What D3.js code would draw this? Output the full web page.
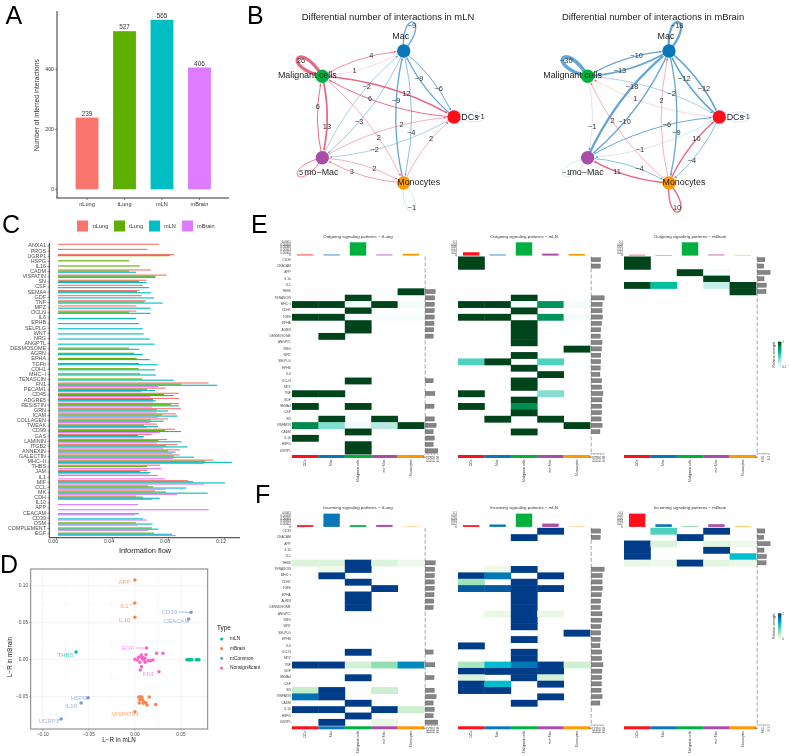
<!DOCTYPE html>
<html><head><meta charset="utf-8">
<script src="https://cdnjs.cloudflare.com/ajax/libs/d3/7.8.5/d3.min.js"></script>
<style>html,body{margin:0;padding:0;background:#fff}svg{display:block;font-family:"Liberation Sans",Arial,sans-serif;filter:blur(.3px)}</style>
</head><body><svg id="c" width="789" height="756"></svg>
<script>
const _=null;
// ---------- Panel A
const groups=['nLung','tLung','mLN','mBrain'];
const interactionCounts=[239,527,565,406];
const groupColors=['#F8766D','#5EB000','#00BFC4','#DF7BFF'];
// ---------- Panel B
const cellNames=['DCs','Mac','Malignant cells','mo\u2212Mac','Monocytes'];
const cellColors=['#FF0F1A','#0A78B8','#00B140','#A84EA8','#FF9900'];
const edgesMLN=[['Mal','Mac',4],['Mac','Mal',1],['mo','Mac',-2],['Mac','mo',-3],['Mal','DC',12],['DC','Mal',6],['Mac','DC',-6],['DC','Mac',-9],['Mac','Mono',-4],['Mono','Mac',-9],['Mal','mo',13],['mo','Mal',6],['DC','mo',-2],['mo','DC',2],['Mono','DC',2],['Mal','Mono',2],['mo','Mono',2],['Mono','mo',3]];
const loopsMLN=[['Mal',26],['Mac',-9],['DC',-1],['mo',5],['Mono',-1]];
const edgesBrain=[['Mal','Mac',-10],['Mac','Mal',-13],['mo','Mac',-18],['Mac','mo',-10],['Mal','DC',-2],['DC','Mal',1],['Mac','DC',-12],['DC','Mac',-12],['Mac','Mono',-9],['Mono','Mac',2],['Mal','mo',-1],['mo','DC',-6],['DC','mo',-1],['Mono','Mal',2],['DC','Mono',-4],['Mono','DC',10],['mo','Mono',-4],['Mono','mo',11]];
const loopsBrain=[['Mal',-30],['Mac',-18],['DC',-1],['mo',-1],['Mono',10]];
// ---------- Panel C
const pathways=['ANXA1','PROS','UGRP1','HSPG','IL16','CADM','VISFATIN','SN','CSF','SEMA4','GDF','TNF','MPZ','OCLN','IL6','EPHB','SELPLG','WNT','NRG','ANGPTL','DESMOSOME','AGRN','EPHA','TGFb','CDH1','MHC-I','TENASCIN','FN1','PECAM1','CD45','ADGRE5','RESISTIN','GRN','ICAM','COLLAGEN','TWEAK','CD99','GAS','LAMININ','ITGB2','ANNEXIN','GALECTIN','MHC-II','THBS','JAM','IL1','MIF','CCL','MK','CDH','IL10','APP','CEACAM','CD39','OSM','COMPLEMENT','EGF'];
const flowNLung=[.0721,.0638,.0829,_,_,.0664,.0776,.0633,.0607,.0583,.0598,.0629,.056,.056,_,_,_,_,_,_,_,_,_,_,_,_,_,.1076,.0769,.0862,.0864,.0864,.0879,.0845,.0786,.0707,.0836,.0669,.0779,.0855,.0871,.0869,.111,.0729,.0638,.0712,.0929,.0645,.0693,.0557,_,_,_,_,_,_,_];
const flowTLung=[_,_,.08,.0507,.0583,.0507,.0698,.0579,_,.0564,_,.0617,_,.0507,_,_,_,_,_,_,.0507,.0543,.0562,.0579,.0576,.0586,.0602,.0879,.0636,.0757,.0679,.0807,.0707,.0745,.0662,.0614,.0764,.0571,.0717,.0771,.0786,.0829,.1052,.0636,.0588,_,.0964,.0681,.0771,.0607,_,_,_,_,.0557,.0671,.0686];
const flowMLN=[_,_,_,_,_,.0557,.0695,.0633,.065,.0664,.0686,.0748,.0662,.0662,.0557,.0579,.0605,.0612,.0655,.069,.0579,.0605,.0655,.0712,.0693,.07,.0826,.1138,.0693,.0826,.0698,.0864,.0788,.0855,.0755,.0714,.0879,.0614,.0883,.0926,.084,.0971,.1243,_,.066,_,.1193,.0917,.1069,.0726,_,_,.0579,.0607,.0676,.0717,.0814];
const flowMBrain=[_,_,_,_,_,_,_,_,_,_,_,_,_,_,_,_,_,_,_,_,_,_,_,_,_,_,_,.0717,.06,.066,.0681,.0671,.0705,.0714,.0657,.0633,.0729,.0605,.0705,.0752,.0817,.0824,.1043,.0738,.065,.0764,.1045,.0769,.085,.0671,.0571,.1076,.0552,.0636,.0571,.0645,.084];
const flowTicks=[0,.04,.08,.12];
// ---------- Panel D
const typeNames=['mLN','mBrain','mCommon','Nonsignificant'];
const typeColors=['#00BF9D','#F8854C','#7B9AD6','#F766C8'];
const ptsMLN=[[-.0638,.0104],[.0565,0],[.0578,0],[.059,0],[.0605,0],[.0618,0],[.0665,0],[.068,0],[.0695,0]];
const ptsBrain=[[0,.1077],[0,.0766],[0,.0572],[0,-.0703],[.0043,-.0505],[.0058,-.0505],[.0076,-.0505],[.0156,-.0505],[.0054,-.054],[.0083,-.054],[.0047,-.0586],[.0098,-.0572],[.012,-.0581],[.013,-.0613],[.0091,-.059],[.0225,-.0604]];
const ptsCommon=[[.0609,.064],[.0583,.055],[-.0507,-.0514],[-.0583,-.0586],[-.08,-.0802]];
const ptsNonsig=[[.0127,.0158],[.0261,-.0162],[.0236,.0086],[.0304,.0086],[.0069,.0063],[.012,.0068],[.004,.0032],[.0069,.0032],[.0109,.0018],[0,.0005],[.0025,-.0005],[.0054,-.0036],[.0087,.0005],[.0112,-.0036],[.0145,-.0014],[.017,-.0014],[.0196,-.0005],[.0072,-.0095],[.0058,-.014],[.0098,-.0005],[.0083,.0032]];
const scatterLabels=[['APP',1,0,.1077],['IL1',1,0,.0766],['IL10',1,0,.0572],['VISFATIN',1,0,-.0703],['CD39',2,.0609,.064],['CEACAM',2,.0583,.055],['HSPG',2,-.0507,-.0514],['IL16',2,-.0583,-.0586],['UGRP1',2,-.08,-.0802],['THBS',0,-.0638,.0104],['EGF',3,.0127,.0158],['FN1',3,.0261,-.0162]];
// ---------- Panels E, F
const heatRows=['CD39','CEACAM','APP','IL10','IL1','THBS','TENASCIN','MHC-I','CDH1','TGFb','EPHA','AGRN','DESMOSOME','ANGPTL','NRG','WNT','SELPLG','EPHB','IL6','OCLN','MPZ','TNF','GDF','SEMA4','CSF','SN','VISFATIN','CADM','IL16','HSPG','UGRP1'];
const outTLung=[['THBS',0,0,0,0,1],['TENASCIN',0,0,1,0,0],['MHC-I',1,1,.03,1,.03],['CDH1',0,0,1,0,0],['TGFb',1,1,.02,.02,.02],['EPHA',0,0,1,0,0],['AGRN',0,0,1,0,0],['DESMOSOME',0,1,0,0,0],['OCLN',0,0,1,0,0],['TNF',1,1,0,0,0],['SEMA4',1,0,1,0,0],['SN',0,1,0,1,0],['VISFATIN',.82,.35,.03,.25,1],['CADM',0,0,1,0,0],['IL16',1,0,0,0,0],['HSPG',0,0,1,0,0],['UGRP1',0,0,1,0,0]];
const outMLN=[['CD39',1,0,0,0,0],['CEACAM',1,0,0,0,0],['TENASCIN',0,0,1,0,0],['MHC-I',1,1,.03,.78,.03],['CDH1',0,0,1,0,0],['TGFb',1,1,0,.78,.03],['EPHA',0,0,1,0,0],['AGRN',0,0,1,0,0],['DESMOSOME',0,0,1,0,0],['ANGPTL',0,0,1,0,0],['NRG',0,0,0,0,1],['WNT',0,0,1,0,0],['SELPLG',.45,1,0,.45,0],['EPHB',0,0,1,0,0],['IL6',0,0,0,1,0],['OCLN',0,0,1,0,0],['MPZ',0,0,1,0,0],['TNF',1,0,0,.35,0],['GDF',0,0,1,0,0],['SEMA4',1,0,.8,0,0],['CSF',0,0,1,0,0],['SN',0,1,0,1,0],['VISFATIN',0,0,0,0,1],['CADM',0,0,1,0,0]];
const outMBrain=[['CD39',1,0,0,0,0],['CEACAM',1,0,0,0,0],['APP',0,0,1,.03,0],['IL10',0,0,0,1,0],['IL1',1,.6,0,.2,1],['THBS',0,0,0,0,1]];
const inTLung=[['THBS',.12,.12,1,.12,.05],['TENASCIN',0,.05,1,0,0],['MHC-I',0,1,0,0,0],['CDH1',0,0,1,0,0],['TGFb',0,0,0,1,0],['EPHA',0,0,1,0,0],['AGRN',0,0,1,0,0],['DESMOSOME',0,0,1,0,0],['OCLN',0,0,1,0,0],['TNF',1,1,.15,.3,.75],['SEMA4',0,0,1,0,0],['SN',.2,1,0,.18,0],['VISFATIN',.82,1,0,0,0],['CADM',0,0,1,0,0],['IL16',1,1,0,1,.18],['HSPG',0,0,1,0,0],['UGRP1',0,1,0,.07,0]];
const inMLN=[['CD39',0,0,0,1,0],['CEACAM',0,0,1,0,0],['TENASCIN',0,.05,1,0,0],['MHC-I',1,.8,0,1,0],['CDH1',.28,0,1,0,0],['TGFb',.9,.9,1,1,0],['EPHA',0,0,1,0,0],['AGRN',0,0,1,0,0],['DESMOSOME',0,0,1,0,0],['ANGPTL',0,.06,1,.06,0],['NRG',0,0,1,0,0],['WNT',0,0,1,0,0],['SELPLG',0,0,0,0,1],['EPHB',0,0,1,0,0],['IL6',1,0,0,0,0],['OCLN',0,0,1,0,0],['MPZ',0,0,1,0,0],['TNF',.25,.62,.8,1,.17],['GDF',1,1,1,1,0],['SEMA4',.12,0,1,.15,0],['CSF',1,.62,0,1,0],['SN',1,1,0,0,0],['VISFATIN',0,0,0,1,0],['CADM',0,0,1,0,0]];
const inMBrain=[['CD39',0,.45,0,1,0],['CEACAM',0,0,1,0,0],['APP',1,.12,0,.1,.05],['IL10',1,0,0,1,0],['IL1',1,0,0,0,.62],['THBS',.06,.05,1,.1,.06]];
const topOutTLung=[.1,.1,1,.1,.14],topOutMLN=[.25,.1,1,.15,.12],topOutMBrain=[.07,.05,1,.1,.05];
const topInTLung=[.13,1,.13,.15,.04],topInMLN=[.13,.18,1,.25,.04],topInMBrain=[1,.2,.05,.2,.07];
const topTicksWide=['0','0.00002','0.00004','0.00006','0.00008','0.0001'];
const topTicksNarrow=['0','0.02','0.04','0.06','0.08','0.1'];
const barTicksDense=[0,.02,.04,.06,.08];
const barTicksSparse=[0,.05,.1];

const svg=d3.select('#c');
const TXT='#4d4d4d',AX='#333';
function text(g,x,y,s,size,opt={}){const t=g.append('text').attr('x',x).attr('y',y).attr('font-size',size).attr('fill',opt.fill||'#222').attr('text-anchor',opt.anchor||'middle').attr('dominant-baseline',opt.base||'middle').text(s);if(opt.rot!==undefined)t.attr('transform',`rotate(${opt.rot},${x},${y})`);if(opt.op)t.attr('opacity',opt.op);return t;}
function line(g,x1,y1,x2,y2,stroke,w,extra){const l=g.append('line').attr('x1',x1).attr('y1',y1).attr('x2',x2).attr('y2',y2).attr('stroke',stroke).attr('stroke-width',w);if(extra)l.attr('stroke-dasharray',extra);return l;}
[['A',5.5,24],['B',247,24],['C',2,233],['D',0,573],['E',251,233],['F',255,503]].forEach(d=>text(svg,d[1],d[2],d[0],25,{anchor:'start',base:'auto',fill:'#000'}));

// ---- A
(function(){const g=svg.append('g');
const x=d3.scaleBand().domain(groups).range([61,225.5]).padding(.39);
const y=d3.scaleLinear().domain([0,400]).range([189.3,69.3]);
g.selectAll('rect').data(interactionCounts).join('rect').attr('x',(d,i)=>x(groups[i])).attr('width',x.bandwidth()).attr('y',d=>y(d)).attr('height',d=>y(0)-y(d)).attr('fill',(d,i)=>groupColors[i]);
interactionCounts.forEach((d,i)=>text(g,x(groups[i])+x.bandwidth()/2,y(d)-3.5,d,6.4,{fill:'#333'}));
line(g,57,11,57,198,AX,1);line(g,56.5,198,229,198,AX,1);
[0,200,400].forEach(v=>{line(g,55,y(v),57,y(v),AX,.6);text(g,54,y(v),v,5.2,{anchor:'end',fill:'#333'});});
groups.forEach(n=>{const c=x(n)+x.bandwidth()/2;line(g,c,198,c,200,AX,.6);text(g,c,204.5,n,5.6,{fill:'#333'});});
text(g,37.7,105,'Number of inferred interactions',6.7,{rot:-90,fill:'#333'});
})();

// ---- B
const angles={DC:0,Mac:72,Mal:144,mo:216,Mono:288};
const keys=['DC','Mac','Mal','mo','Mono'];
const labelDx={DC:16,Mac:-3,Mal:-15,mo:-1,Mono:15},labelDy={DC:.5,Mac:-14.5,Mal:-.5,mo:15,Mono:0};
const widthScale=d3.scaleLinear().domain([0,30]).range([.3,3.6]);
const RED='#E8607A',BLUE='#5AA0D4';
function network(cx,title,titleX,edges,loops,id){
 const g=svg.append('g');
 const sx=d3.scaleLinear().domain([-1,1]).range([cx-72.8,cx+72.8]);
 const sy=d3.scaleLinear().domain([-1,1]).range([186.4,47.6]);
 const P={};keys.forEach(k=>{const a=angles[k]*Math.PI/180;P[k]=[sx(Math.cos(a)),sy(Math.sin(a))];});
 const R=6.7;
 text(g,titleX,18,title,9.4,{fill:'#222'});
 const defs=g.append('defs');
 [['r',RED],['b',BLUE]].forEach(([n,c])=>defs.append('marker').attr('id',id+n).attr('markerUnits','userSpaceOnUse').attr('markerWidth',4).attr('markerHeight',4).attr('refX',2.4).attr('refY',1.2).attr('orient','auto').append('path').attr('d','M0,0L2.4,1.2L0,2.4Z').attr('fill',c));
 const labels=[];
 edges.forEach(([s,t,v])=>{
  const a=P[s],b=P[t],dx=b[0]-a[0],dy=b[1]-a[1];
  const c=[(a[0]+b[0])/2+.12*dy,(a[1]+b[1])/2-.12*dx];
  const q=u=>[(1-u)*(1-u)*a[0]+2*u*(1-u)*c[0]+u*u*b[0],(1-u)*(1-u)*a[1]+2*u*(1-u)*c[1]+u*u*b[1]];
  let te=1;while(te>.5){const p=q(te);if(Math.hypot(p[0]-b[0],p[1]-b[1])>R+.4)break;te-=.005;}
  const ce=[a[0]+(c[0]-a[0])*te,a[1]+(c[1]-a[1])*te],pe=q(te);
  const col=v>0?RED:BLUE;
  g.append('path').attr('d',`M${a}Q${ce} ${pe}`).attr('fill','none').attr('stroke',col).attr('stroke-width',widthScale(Math.abs(v))).attr('stroke-opacity',Math.abs(v)<=1?.6:.95).attr('marker-end',`url(#${id}${v>0?'r':'b'})`);
  const l=q(.62);labels.push([l[0],l[1],v]);
 });
 loops.forEach(([k,v])=>{
  const a=angles[k]*Math.PI/180,p=P[k],L=44,sp=23*Math.PI/180;
  const c1=[p[0]+L*Math.cos(a+sp),p[1]-L*Math.sin(a+sp)],c2=[p[0]+L*Math.cos(a-sp),p[1]-L*Math.sin(a-sp)];
  g.append('path').attr('d',`M${p}C${c1} ${c2} ${p}`).attr('fill','none').attr('stroke',v>0?RED:BLUE).attr('stroke-width',widthScale(Math.abs(v))).attr('stroke-opacity',Math.abs(v)<=1?.6:.95);
  labels.push([p[0]+26.3*Math.cos(a),p[1]-26.3*Math.sin(a),v]);
 });
 keys.forEach((k,i)=>g.append('circle').attr('cx',P[k][0]).attr('cy',P[k][1]).attr('r',R).attr('fill',cellColors[i]));
 keys.forEach((k,i)=>text(g,P[k][0]+labelDx[k],P[k][1]+labelDy[k],cellNames[i],8.9,{fill:'#222'}));
 labels.forEach(l=>text(g,l[0],l[1],String(l[2]).replace('-','\u2212'),7.4,{fill:'#333'}));
}
network(381.2,'Differential number of interactions in mLN',388,edgesMLN,loopsMLN,'m');
network(646.5,'Differential number of interactions in mBrain',653,edgesBrain,loopsBrain,'x');

// ---- C
(function(){const g=svg.append('g');
const y=d3.scaleBand().domain(pathways).range([243.4,536.3]);
const inner=d3.scaleBand().domain(groups).range([.3,y.bandwidth()-.3]);
const x=d3.scaleLinear().domain([0,.12]).range([58,226]);
[flowNLung,flowTLung,flowMLN,flowMBrain].forEach((s,k)=>{
 g.append('g').selectAll('rect').data(s.map((v,i)=>[pathways[i],v]).filter(d=>d[1]!==null)).join('rect')
 .attr('x',x(0)).attr('width',d=>x(d[1])-x(0)).attr('y',d=>y(d[0])+inner(groups[k])).attr('height',inner.bandwidth()).attr('fill',groupColors[k]);
});
line(g,49.3,243,49.3,538,AX,1);line(g,49,537.7,240,537.7,AX,1);
pathways.forEach(p=>{const c=y(p)+y.bandwidth()/2;line(g,47.5,c,49.3,c,AX,.5);text(g,46,c,p.replace('-','\u2212'),5.4,{anchor:'end',fill:TXT});});
flowTicks.forEach(v=>{line(g,x(v)-1.5,537.7,x(v)-1.5,539.5,AX,.5);text(g,x(v)-5,541.9,v.toFixed(2),5.2,{fill:TXT});});
text(g,145,550.8,'Information flow',7.4,{fill:'#222'});
[[77,92.7],[114,129],[149,164],[182,197]].forEach((p,i)=>{g.append('rect').attr('x',p[0]).attr('y',220.5).attr('width',11).attr('height',11).attr('fill',groupColors[i]);text(g,p[1],226.3,groups[i],5.6,{anchor:'start',fill:'#333'});});
})();

// ---- D
(function(){const g=svg.append('g');
const x=d3.scaleLinear().domain([-.1,.05]).range([42.7,181]);
const y=d3.scaleLinear().domain([-.05,.1]).range([696.7,585.7]);
const L=30.7,Rr=207.7,T=569,B=729;
[-.075,-.025,.025].forEach(v=>line(g,x(v),T,x(v),B,'#f2f2f2',.3));
[-.075,-.025,.025,.075].forEach(v=>line(g,L,y(v),Rr,y(v),'#f2f2f2',.3));
[-.1,-.05,0,.05].forEach(v=>{line(g,x(v),T,x(v),B,'#ebebeb',.6);line(g,x(v),B,x(v),B+1.5,'#555',.5);text(g,x(v),735,v===0?'0.00':v.toFixed(2).replace('-','\u2212'),4.8,{fill:TXT});});
[-.05,0,.05,.1].forEach(v=>{line(g,L,y(v),Rr,y(v),'#ebebeb',.6);line(g,L-1.5,y(v),L,y(v),'#555',.5);text(g,L-2.5,y(v),v===0?'0.00':v.toFixed(2).replace('-','\u2212'),4.8,{anchor:'end',fill:TXT});});
[ptsMLN,ptsBrain,ptsCommon,ptsNonsig].forEach((s,k)=>g.append('g').selectAll('circle').data(s).join('circle').attr('cx',d=>x(d[0])).attr('cy',d=>y(d[1])).attr('r',1.75).attr('fill',typeColors[k]));
// label placement (offsets in px from the point)
const off={APP:[-10.5,2.7],IL1:[-10.5,3],IL10:[-10.5,2.7],VISFATIN:[-10,2.7],CD39:[-21.7,-.3],CEACAM:[-12,2.7],HSPG:[-9,.7],IL16:[-10,3.7],UGRP1:[-12.3,2.7],THBS:[-10.5,3],EGF:[-18.5,0],FN1:[-10.5,3]};
const seg={CD39:[-13,-.3],EGF:[-11,0],IL1:[-5,2.5],UGRP1:[-4,1.5],HSPG:[-3,.3]};
scatterLabels.forEach(([n,k,vx,vy])=>{const c=typeColors[k];
 if(seg[n])line(g,x(vx),y(vy),x(vx)+seg[n][0],y(vy)+seg[n][1],c,.6);
 text(g,x(vx)+off[n][0],y(vy)+off[n][1],n,6,{fill:c,op:.72});
});
g.append('rect').attr('x',L).attr('y',T).attr('width',Rr-L).attr('height',B-T).attr('fill','none').attr('stroke','#7f7f7f').attr('stroke-width',1);
text(g,119,740,'L\u2212R in mLN',6.3,{fill:'#222'});
text(g,10.3,657,'L\u2212R in mBrain',6.3,{rot:-90,fill:'#222'});
text(g,217,628.3,'Type',6.3,{anchor:'start',fill:'#222'});
typeNames.forEach((n,i)=>{const yy=639+i*9.7;g.append('circle').attr('cx',221.7).attr('cy',yy).attr('r',1.6).attr('fill',typeColors[i]);text(g,230,yy,n,4.8,{anchor:'start',fill:'#222'});});
})();

// ---- E, F
const greens=d3.scaleLinear().domain([0,.03,.25,.45,.6,.82,1]).range(['#ffffff','#f4fbfc','#b9eae2','#4dd2bc','#00bf9a','#008a4c','#00441b']);
const blues=d3.scaleLinear().domain([0,.05,.18,.3,.62,.8,.9,1]).range(['#ffffff','#eef9e9','#cdeecf','#93dfb4','#00bed0','#0078b8','#005aa2','#003c88']);
function heat(o){
 const g=svg.append('g');
 const x=d3.scaleBand().domain(d3.range(5)).range([o.x0,o.x0+132]);
 const y=d3.scaleBand().domain(heatRows).range([o.y0,o.y0+197.5]);
 const bottom=o.y0+197.5;
 text(g,o.x0+66,o.titleY,o.title,4.4,{fill:'#333'});
 o.m.forEach(r=>{for(let c=0;c<5;c++){if(!r[c+1])continue;g.append('rect').attr('x',x(c)).attr('y',y(r[0])).attr('width',x.bandwidth()+.4).attr('height',y.bandwidth()+.5).attr('fill',o.scale(r[c+1]));}});
 // top annotation
 const base=o.y0-.9;const ty=d3.scaleLinear().domain([0,1]).range([base,base-13.3]);
 o.top.forEach((v,c)=>g.append('rect').attr('x',x(c)+x.bandwidth()/2-8.2).attr('width',16.4).attr('y',ty(v)).attr('height',base-ty(v)).attr('fill',cellColors[c]).attr('opacity',v<.12?.6:1));
 o.ticks.forEach((t,i)=>{const yy=base-i*13.3/5;text(g,o.x0-1.2,yy,t,2.9,{anchor:'end',fill:'#333'});});
 // bottom colour strip and labels
 d3.range(5).forEach(c=>{g.append('rect').attr('x',x(c)).attr('y',bottom+1).attr('width',x.bandwidth()+.1).attr('height',3).attr('fill',cellColors[c]);
  text(g,x(c)+x.bandwidth()/2,bottom+5.5,cellNames[c],3.4,{anchor:'end',rot:-90,fill:'#333'});});
 if(o.labels)heatRows.forEach(r=>text(g,o.x0-1.3,y(r)+y.bandwidth()/2,r.replace('-','\u2212'),3.2,{anchor:'end',fill:'#444'}));
 // right bars
 const bx=o.x0+133.2;const sx=d3.scaleLinear().domain([0,.1]).range([bx,bx+o.pxPer]);
 line(g,bx,o.y0,bx,bottom,'#666',.6,'4 2');
 heatRows.forEach(r=>{const v=o.flow[pathways.indexOf(r)];if(v===null||v===undefined)return;
  g.append('rect').attr('x',bx).attr('y',y(r)+1.1).attr('width',sx(v)-bx).attr('height',y.bandwidth()-2.2).attr('fill','#858585').attr('stroke','#555').attr('stroke-width',.35);});
 line(g,bx,bottom-.3,sx(o.barTicks[o.barTicks.length-1]),bottom-.3,'#333',.35);
 o.barTicks.forEach(t=>{line(g,sx(t),bottom-.3,sx(t),bottom+1,'#333',.35);text(g,sx(t),bottom+1.8,String(t),3,{anchor:'end',rot:-90,fill:'#333'});});
 // colour bar
 if(o.cb){const gid='cb'+o.cb.id;const d=g.append('defs').append('linearGradient').attr('id',gid).attr('x1',0).attr('x2',0).attr('y1',1).attr('y2',0);
  d3.range(0,1.01,.1).forEach(t=>d.append('stop').attr('offset',t).attr('stop-color',o.scale(t)));
  g.append('rect').attr('x',778).attr('y',o.cb.y).attr('width',3.4).attr('height',26.5).attr('fill',`url(#${gid})`);
  text(g,774.5,o.cb.y+13,'Relative strength',3.4,{rot:-90,fill:'#333'});
  text(g,782.3,o.cb.y+1,'1',2.9,{anchor:'start',fill:'#333'});
  text(g,782.3,o.cb.y+25.5,o.cb.low,2.9,{anchor:'start',fill:'#333'});}
}
heat({x0:292,y0:256.5,titleY:237,title:'Outgoing signaling patterns \u2212 tLung',m:outTLung,top:topOutTLung,scale:greens,flow:flowTLung,pxPer:15.7,barTicks:barTicksDense,ticks:topTicksWide,labels:true});
heat({x0:458,y0:256.5,titleY:237,title:'Outgoing signaling patterns \u2212 mLN',m:outMLN,top:topOutMLN,scale:greens,flow:flowMLN,pxPer:15.7,barTicks:barTicksDense,ticks:topTicksNarrow});
heat({x0:624,y0:256.5,titleY:237,title:'Outgoing signaling patterns \u2212 mBrain',m:outMBrain,top:topOutMBrain,scale:greens,flow:flowMBrain,pxPer:12,barTicks:barTicksSparse,ticks:topTicksNarrow,cb:{id:'e',y:341.7,low:'0.2'}});
heat({x0:292,y0:527.8,titleY:508.3,title:'Incoming signaling patterns \u2212 tLung',m:inTLung,top:topInTLung,scale:blues,flow:flowTLung,pxPer:15.7,barTicks:barTicksDense,ticks:topTicksWide,labels:true});
heat({x0:458,y0:527.8,titleY:508.3,title:'Incoming signaling patterns \u2212 mLN',m:inMLN,top:topInMLN,scale:blues,flow:flowMLN,pxPer:15.7,barTicks:barTicksDense,ticks:topTicksNarrow});
heat({x0:624,y0:527.8,titleY:508.3,title:'Incoming signaling patterns \u2212 mBrain',m:inMBrain,top:topInMBrain,scale:blues,flow:flowMBrain,pxPer:12,barTicks:barTicksSparse,ticks:topTicksNarrow,cb:{id:'f',y:613.3,low:'0'}});
</script></body></html>
